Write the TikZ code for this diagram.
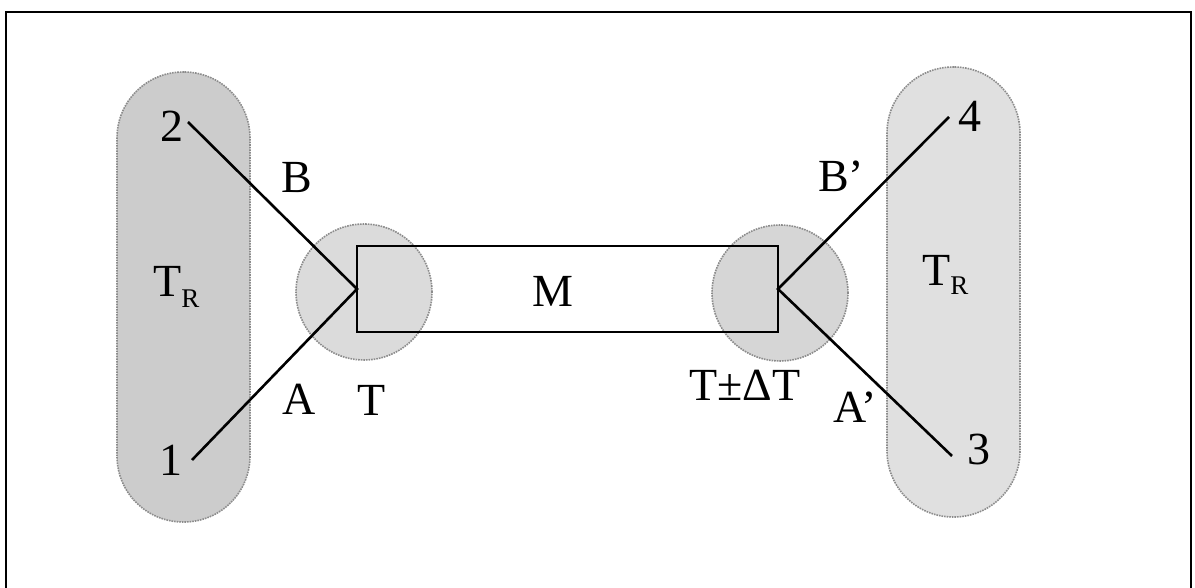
\documentclass[tikz,border=0pt]{standalone}
\usepackage{fontspec}
\setmainfont{Liberation Serif}
\begin{document}
\begin{tikzpicture}[x=1pt,y=-1pt,
  capsule/.style={draw=black!45, densely dotted, line width=1.6pt, rounded corners=66pt, minimum width=133pt, inner sep=0pt},
  blob/.style={circle, draw=black!45, densely dotted, line width=1.6pt, minimum size=136pt, inner sep=0pt, fill=black!14},
  lbl/.style={anchor=base, inner sep=0pt, font=\fontsize{46}{50}\selectfont},
  wire/.style={line width=2.6pt}]
\useasboundingbox (0,0) rectangle (1195,588);
% frame
\draw[line width=2.8pt] (6,588) -- (6,12) -- (1191,12) -- (1191,588);
% reservoirs
\node[capsule, fill=black!20, minimum height=450pt] (resL) at (183.5,297) {};
\node[capsule, fill=black!12, minimum height=450pt] (resR) at (953.5,292) {};
% junction regions
\node[blob] (jL) at (364,292) {};
\node[blob, fill=black!16] (jR) at (780,293) {};
% sample
\node[draw, line width=2.6pt, minimum width=421pt, minimum height=86pt, inner sep=0pt] (M) at (567.5,289) {};
\coordinate (vL) at (357,289);
\coordinate (vR) at (778,289);
\coordinate (p2) at (188,122);
\coordinate (p1) at (192,460);
\coordinate (p4) at (949,117);
\coordinate (p3) at (952,456);
\draw[wire] (p2) -- (vL) -- (p1);
\draw[wire] (p4) -- (vR) -- (p3);
% labels
\node[lbl] (l2) at (172,142) {2};
\node[lbl] (lB) at (297,193) {B};
\node[lbl, anchor=base west] (lTRl) at (153,297) {T\raisebox{-11pt}{\fontsize{27}{28}\selectfont R}};
\node[lbl] (lA) at (299,414) {A};
\node[lbl] (lT) at (372,415) {T};
\node[lbl] (l1) at (171,475) {1};
\node[lbl] (lM) at (553,306) {M};
\node[lbl] (lTd) at (745,400) {T±ΔT};
\node[lbl] (lAp) at (855,422) {A’};
\node[lbl] (l3) at (979,464) {3};
\node[lbl] (l4) at (970,132) {4};
\node[lbl] (lBp) at (841,192) {B’};
\node[lbl, anchor=base west] (lTRr) at (922,286) {T\raisebox{-9pt}{\fontsize{27}{28}\selectfont R}};
\end{tikzpicture}
\end{document}
